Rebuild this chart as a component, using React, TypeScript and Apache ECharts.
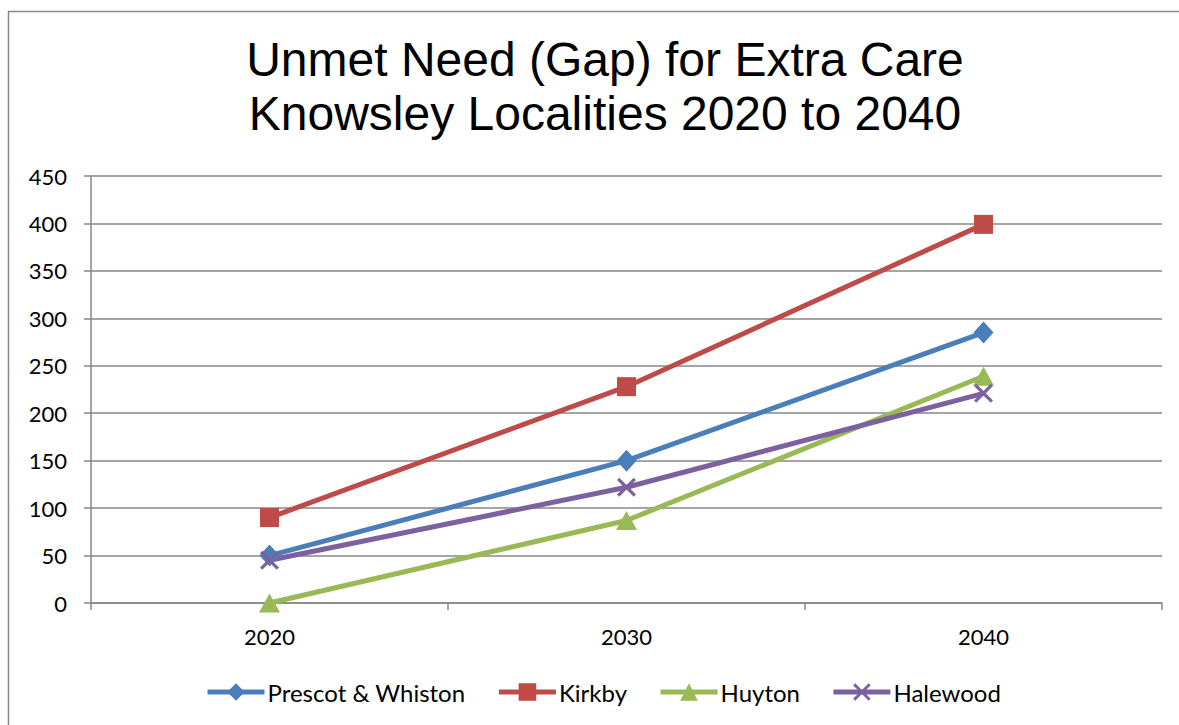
import React, { useEffect, useRef } from "react";
import * as echarts from "echarts";

const years = ["2020", "2030", "2040"];
const prescotWhiston = [50, 150, 285];
const kirkby = [90, 228, 399];
const huyton = [0, 87, 239];
const halewood = [45, 122, 221];
const seriesNames = ["Prescot & Whiston", "Kirkby", "Huyton", "Halewood"];
const colors = ["#4A7EBB", "#BE4B48", "#98B954", "#7D60A0"];

const crossPath =
  "path://M0,1.2 L1.2,0 L5,3.8 L8.8,0 L10,1.2 L6.2,5 L10,8.8 L8.8,10 L5,6.2 L1.2,10 L0,8.8 L3.8,5 Z";

export default function App() {
  const ref = useRef<HTMLDivElement>(null);
  useEffect(() => {
    const chart = echarts.init(ref.current!, null, { renderer: "svg" });
    const font = "Lato, 'Noto Sans', sans-serif";
    const data = [prescotWhiston, kirkby, huyton, halewood];
    const symbols = ["diamond", "rect", "triangle", crossPath];
    const sizes: any[] = [[20, 22], [19, 19], [21, 19], [19, 19]];
    chart.setOption({
      animation: false,
      color: colors,
      title: {
        text: "Unmet Need (Gap) for Extra Care\nKnowsley Localities 2020 to 2040",
        left: 600,
        textAlign: "center",
        top: 27,
        textStyle: {
          fontFamily: "'Liberation Sans', Arial, sans-serif",
          fontSize: 48,
          fontWeight: "normal",
          color: "#000",
          lineHeight: 54,
          align: "center",
        },
      },
      graphic: [
        {
          type: "rect",
          shape: { x: 8.5, y: 11.5, width: 1300, height: 900 },
          style: { fill: "none", stroke: "#878787", lineWidth: 1.5 },
          silent: true,
        },
      ],
      legend: {
        bottom: 21,
        left: 205,
        itemWidth: 57,
        itemHeight: 22,
        itemGap: 31,
        padding: 0,
        data: seriesNames,
        lineStyle: { width: 5 },
        textStyle: { fontFamily: font, fontSize: 24, color: "#000", padding: [0, 0, 0, -2] },
      },
      grid: { left: 91, right: 17, top: 176, bottom: 122 },
      xAxis: {
        type: "category",
        data: years,
        boundaryGap: true,
        axisLine: { lineStyle: { color: "#878787", width: 1.5 } },
        axisTick: { show: true, length: 7, inside: false, lineStyle: { color: "#878787", width: 1.5 } },
        axisLabel: { fontFamily: font, fontSize: 22, color: "#000", margin: 22 },
      },
      yAxis: {
        type: "value",
        min: 0,
        max: 450,
        interval: 50,
        axisLine: { show: true, lineStyle: { color: "#878787", width: 1.5 } },
        axisTick: { show: true, length: 7, lineStyle: { color: "#878787", width: 1.5 } },
        splitLine: { lineStyle: { color: "#878787", width: 1.5 } },
        axisLabel: { fontFamily: font, fontSize: 22, color: "#000", margin: 24 },
      },
      series: seriesNames.map((name, i) => ({
        name,
        type: "line",
        data: data[i],
        symbol: symbols[i],
        symbolSize: sizes[i],
        showAllSymbol: true,
        lineStyle: { width: 5, color: colors[i] },
        itemStyle: { color: colors[i] },
      })),
    });
    return () => chart.dispose();
  }, []);
  return (
    <div
      ref={ref}
      style={{ position: "fixed", left: 0, top: 0, width: 1179, height: 725, background: "#fff" }}
    />
  );
}
